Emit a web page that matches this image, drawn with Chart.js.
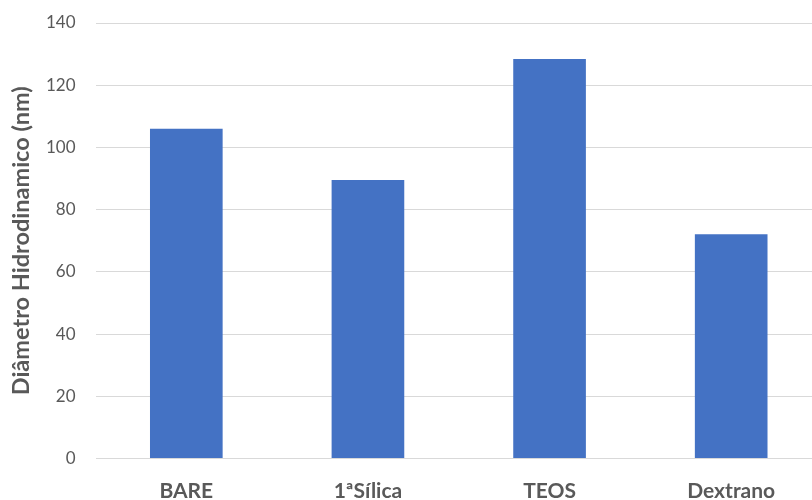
<!DOCTYPE html>
<html>
<head>
<meta charset="utf-8">
<script src="https://cdn.jsdelivr.net/npm/chart.js@4/dist/chart.umd.min.js"></script>
<style>
  html, body { margin: 0; padding: 0; background: #ffffff; overflow: hidden; }
  #wrap { width: 822px; height: 500px; position: relative; }
</style>
</head>
<body>
<div id="wrap"><canvas id="chart"></canvas></div>
<script>
// Hydrodynamic diameter per sample
const categories = ['BARE', '1ªSílica', 'TEOS', 'Dextrano'];
const diameters = [106, 89.5, 128.4, 72.1];
const yTicks = [0, 20, 40, 60, 80, 100, 120, 140];

const textGrey = '#595959';
const fontFamily = 'Lato, "Open Sans", sans-serif';

new Chart(document.getElementById('chart'), {
  type: 'bar',
  data: {
    labels: categories,
    datasets: [{
      data: diameters,
      backgroundColor: '#4472C4',
      borderWidth: 0,
      categoryPercentage: 1,
      barPercentage: 0.4
    }]
  },
  options: {
    responsive: true,
    maintainAspectRatio: false,
    animation: false,
    layout: { padding: { top: 23, right: 0, bottom: 0, left: 0 } },
    plugins: { legend: { display: false }, tooltip: { enabled: false } },
    scales: {
      x: {
        grid: { display: false, drawTicks: false },
        border: { display: false },
        ticks: {
          color: textGrey,
          padding: 20,
          font: { family: fontFamily, size: 21, weight: 'bold' }
        },
        afterFit: s => { s.height = 41.5; }
      },
      y: {
        min: 0,
        max: 140,
        afterBuildTicks: s => { s.ticks = yTicks.map(v => ({ value: v })); },
        grid: { color: '#D9D9D9', lineWidth: 1, drawTicks: false },
        border: { display: false },
        ticks: {
          color: textGrey,
          padding: 20,
          font: { family: fontFamily, size: 17 }
        },
        title: {
          display: true,
          text: 'Diâmetro Hidrodinamico (nm)',
          color: textGrey,
          padding: { top: 7, bottom: 0 },
          font: { family: fontFamily, size: 23.5, weight: 'bold' }
        },
        afterFit: s => {
          s.width = 95.5;
          s.paddingTop = 0;
          s.paddingBottom = 0;
        }
      }
    }
  }
});
</script>
</body>
</html>
